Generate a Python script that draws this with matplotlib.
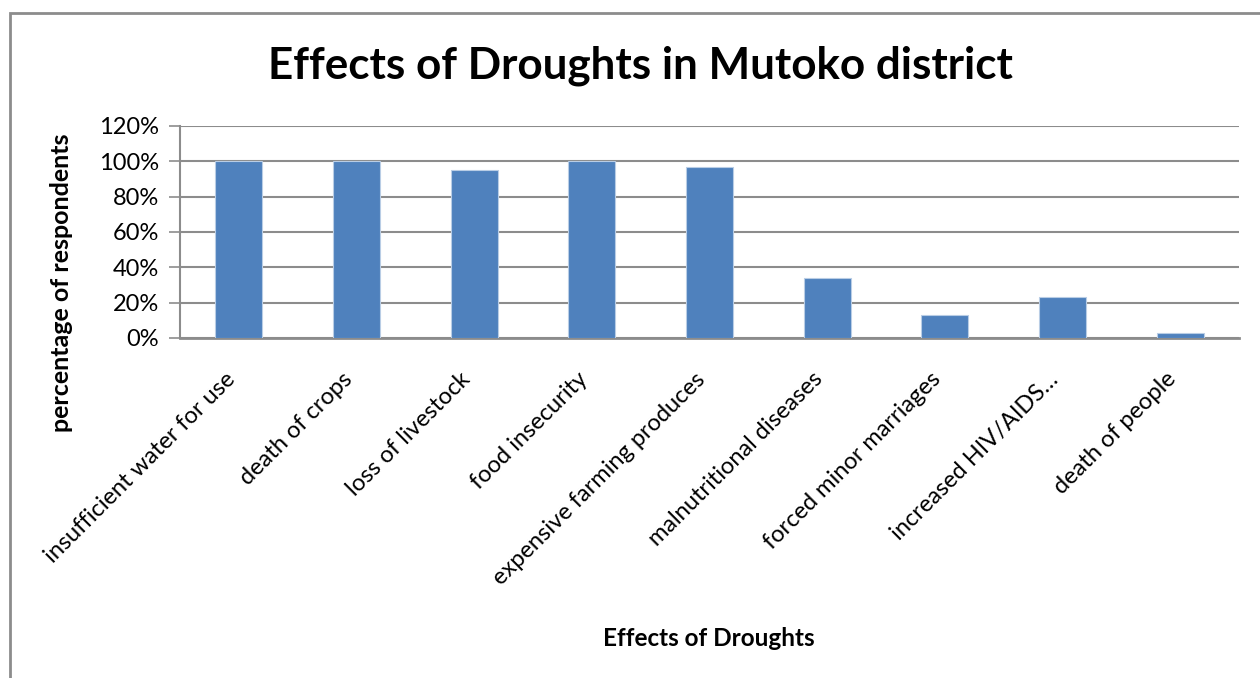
import matplotlib.pyplot as plt
from matplotlib.patches import Rectangle
from matplotlib.ticker import PercentFormatter

effects = [
    "insufficient water for use",
    "death of crops",
    "loss of livestock",
    "food insecurity",
    "expensive farming produces",
    "malnutritional diseases",
    "forced minor marriages",
    "increased HIV/AIDS\u2026",
    "death of people",
]
respondents_pct = [100, 100, 95, 100, 97, 34, 13, 23, 3]
y_ticks = [0, 20, 40, 60, 80, 100, 120]

plt.rcParams["font.family"] = ["Lato", "DejaVu Sans"]

fig = plt.figure(figsize=(12.6, 6.78), dpi=100)
ax = fig.add_axes([180 / 1260, 1 - 338 / 678, 1059 / 1260, 212 / 678])

x = range(len(effects))
ax.bar(x, respondents_pct, width=0.4, color="#4F81BD", edgecolor="#B9CDE5",
       linewidth=0.8, zorder=3)

ax.set_xlim(-0.5, len(effects) - 0.5)
ax.set_ylim(0, 120)
ax.set_yticks(y_ticks)
ax.yaxis.set_major_formatter(PercentFormatter(decimals=0))
ax.grid(axis="y", color="#8C8C8C", linewidth=1.5, zorder=0)
ax.tick_params(axis="y", length=8, width=1.2, color="#8C8C8C", labelsize=17, pad=7)
ax.tick_params(axis="x", length=0, labelsize=17, pad=22)

ax.set_xticks(list(x))
ax.set_xticklabels(effects, rotation=45, ha="right", va="top")

for side in ["top", "right"]:
    ax.spines[side].set_visible(False)
ax.spines["left"].set_color("#8C8C8C")
ax.spines["left"].set_linewidth(1.5)
ax.spines["bottom"].set_color("#8C8C8C")
ax.spines["bottom"].set_linewidth(2)

fig.text(0.508, 1 - 66 / 678, "Effects of Droughts in Mutoko district",
         ha="center", va="center", fontsize=31.7, fontweight="bold")
fig.text(62 / 1260, 1 - 283 / 678, "percentage of respondents", rotation=90,
         ha="center", va="center", fontsize=18, fontweight="bold")
fig.text(709 / 1260, 1 - 638 / 678, "Effects of Droughts",
         ha="center", va="center", fontsize=17.5, fontweight="bold")

# chart area frame, running off the right and bottom edges
fig.patches.append(Rectangle((10 / 1260, -0.05), 1.1, 1 - 13 / 678 + 0.05,
                             transform=fig.transFigure, fill=False,
                             edgecolor="#8C8C8C", linewidth=2))

fig.savefig("out.png", dpi=100)
